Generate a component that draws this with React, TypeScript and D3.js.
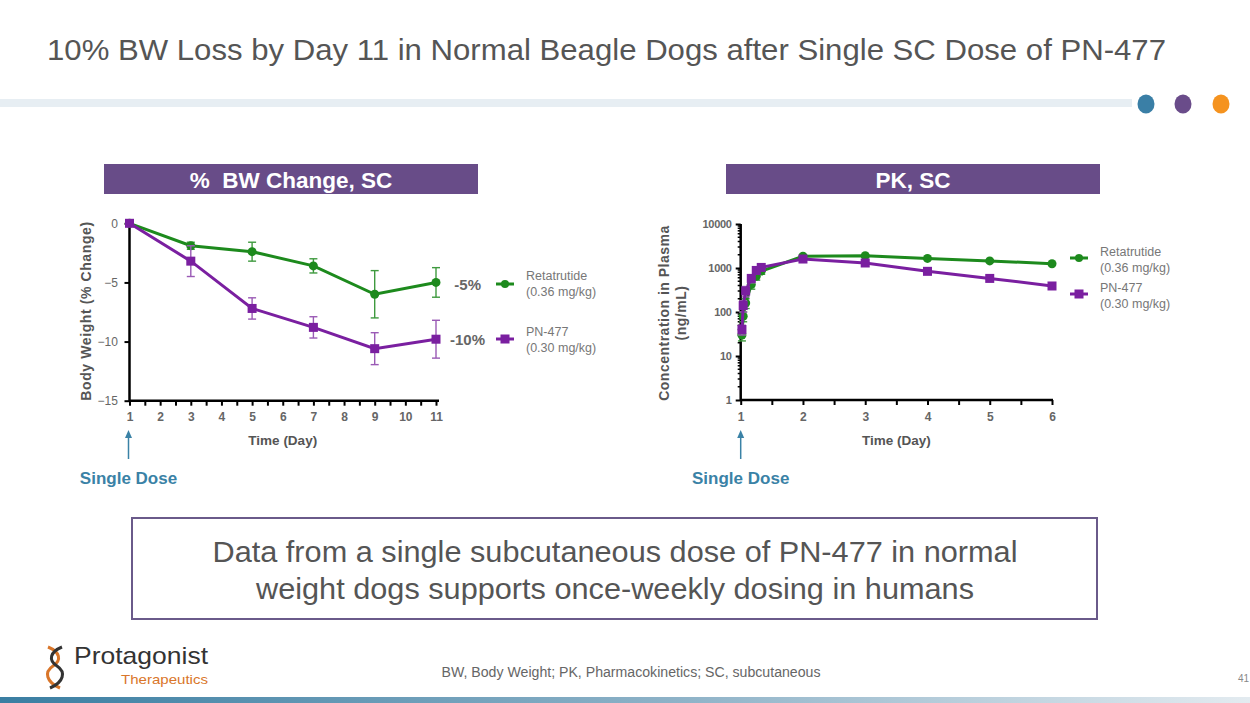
import { useEffect, useRef } from "react";
import * as d3 from "d3";

// Body weight (% change) by day
const bwDays = [1, 3, 5, 7, 9, 11];
const retaBW = [0, -1.9, -2.4, -3.6, -6.0, -5.0];
const retaBWErr = [0, 0.3, 0.8, 0.6, 2.0, 1.25];
const pnBW = [0, -3.2, -7.2, -8.8, -10.6, -9.8];
const pnBWErr = [0, 1.3, 0.9, 0.9, 1.35, 1.6];
const bwYTicks = [0, -5, -10, -15];

// PK concentration in plasma (ng/mL) by day
const pkDays = [1.02, 1.04, 1.08, 1.17, 1.25, 1.33, 2, 3, 4, 5, 6];
const retaPK = [30, 80, 160, 420, 650, 850, 1850, 1900, 1650, 1450, 1250];
const retaPKErr = [8, 20, 40, 90, 120, 130, 100, 80, 60, 50, 40];
const pnPK = [40, 140, 300, 580, 880, 1030, 1600, 1300, 840, 580, 390];
const pnPKErr = [10, 40, 80, 120, 130, 100, 90, 60, 40, 30, 25];
const pkYTicks = [1, 10, 100, 1000, 10000];

const legendNames = ["Retatrutide", "PN-477"];
const legendDoses = ["(0.36 mg/kg)", "(0.30 mg/kg)"];
const bwLabels = ["-5%", "-10%"];

const GREEN = "#1d8a1d";
const PURPLE = "#7a1fa0";
const GREEN_ERR = "#3f9a3f";
const PURPLE_ERR = "#9a5ab5";
const TEAL = "#3a82a6";
const BAR = "#684c88";
const FONT = "'Liberation Sans', Arial, sans-serif";

type Sel = d3.Selection<SVGGElement, unknown, null, undefined>;

function drawSeries(
  g: Sel,
  xs: number[],
  ys: number[],
  errs: number[],
  x: (v: number) => number,
  y: (v: number) => number,
  color: string,
  errColor: string,
  shape: "circle" | "square",
  lowClamp?: number
) {
  const pts = xs.map((d, i) => ({ d, v: ys[i], e: errs[i] }));
  const eg = g.append("g").attr("stroke", errColor).attr("stroke-width", 1.4);
  pts.forEach((p) => {
    if (!p.e) return;
    const lo = lowClamp !== undefined ? Math.max(lowClamp, p.v - p.e) : p.v - p.e;
    const cx = x(p.d);
    eg.append("line").attr("x1", cx).attr("x2", cx).attr("y1", y(p.v + p.e)).attr("y2", y(lo));
    eg.append("line").attr("x1", cx - 4).attr("x2", cx + 4).attr("y1", y(p.v + p.e)).attr("y2", y(p.v + p.e));
    eg.append("line").attr("x1", cx - 4).attr("x2", cx + 4).attr("y1", y(lo)).attr("y2", y(lo));
  });
  const line = d3
    .line<{ d: number; v: number }>()
    .x((p) => x(p.d))
    .y((p) => y(p.v));
  g.append("path")
    .datum(pts)
    .attr("d", line)
    .attr("fill", "none")
    .attr("stroke", color)
    .attr("stroke-width", 3);
  if (shape === "circle") {
    g.selectAll(null)
      .data(pts)
      .join("circle")
      .attr("cx", (p) => x(p.d))
      .attr("cy", (p) => y(p.v))
      .attr("r", 4.5)
      .attr("fill", color);
  } else {
    g.selectAll(null)
      .data(pts)
      .join("rect")
      .attr("x", (p) => x(p.d) - 4.5)
      .attr("y", (p) => y(p.v) - 4.5)
      .attr("width", 9)
      .attr("height", 9)
      .attr("fill", color);
  }
}

function legendSymbol(g: Sel, x0: number, yc: number, color: string, shape: "circle" | "square") {
  g.append("line")
    .attr("x1", x0)
    .attr("x2", x0 + 18)
    .attr("y1", yc)
    .attr("y2", yc)
    .attr("stroke", color)
    .attr("stroke-width", 3);
  if (shape === "circle") {
    g.append("circle").attr("cx", x0 + 9).attr("cy", yc).attr("r", 4).attr("fill", color);
  } else {
    g.append("rect").attr("x", x0 + 4.5).attr("y", yc - 4.5).attr("width", 9).attr("height", 9).attr("fill", color);
  }
}

function legendText(g: Sel, x0: number, y0: number, i: number) {
  const t = g
    .append("text")
    .attr("x", x0)
    .attr("y", y0)
    .attr("font-size", 12.5)
    .attr("fill", "#777");
  t.append("tspan").attr("x", x0).text(legendNames[i]);
  t.append("tspan").attr("x", x0).attr("dy", 15.5).text(legendDoses[i]);
}

function singleDose(g: Sel, xc: number) {
  g.append("line")
    .attr("x1", xc)
    .attr("x2", xc)
    .attr("y1", 459)
    .attr("y2", 436)
    .attr("stroke", TEAL)
    .attr("stroke-width", 1.5);
  g.append("path")
    .attr("d", `M${xc - 3.5},${438} L${xc},${430} L${xc + 3.5},${438} Z`)
    .attr("fill", TEAL);
  g.append("text")
    .attr("x", xc)
    .attr("y", 484)
    .attr("text-anchor", "middle")
    .attr("font-size", 17)
    .attr("font-weight", "bold")
    .attr("fill", TEAL)
    .text("Single Dose");
}

function titleBar(g: Sel, x0: number, label: string) {
  g.append("rect").attr("x", x0).attr("y", 164).attr("width", 374).attr("height", 30).attr("fill", BAR);
  g.append("text")
    .attr("x", x0 + 187)
    .attr("y", 187.5)
    .attr("text-anchor", "middle")
    .attr("font-size", 22.5)
    .attr("font-weight", "bold")
    .attr("fill", "#fff")
    .style("white-space", "pre")
    .text(label);
}

function styleAxis(a: Sel) {
  a.select(".domain").attr("stroke", "#000").attr("stroke-width", 2.5);
  a.selectAll(".tick line").attr("stroke", "#000").attr("stroke-width", 2);
  a.selectAll(".tick text")
    .attr("font-family", FONT)
    .attr("font-size", 12)
    .attr("fill", "#666");
}

export default function App() {
  const ref = useRef<SVGSVGElement>(null);

  useEffect(() => {
    const svg = d3.select(ref.current!);
    svg.selectAll("*").remove();
    const root = svg.append("g").attr("font-family", FONT) as Sel;

    // header
    root
      .append("text")
      .attr("x", 47)
      .attr("y", 60)
      .attr("font-size", 29)
      .attr("fill", "#555")
      .attr("textLength", 1119)
      .attr("lengthAdjust", "spacingAndGlyphs")
      .text("10% BW Loss by Day 11 in Normal Beagle Dogs after Single SC Dose of PN-477");
    root.append("rect").attr("x", 0).attr("y", 99).attr("width", 1132).attr("height", 8).attr("fill", "#e7eef3");
    [
      [1146, "#3a7fa6"],
      [1183, "#6a4c8a"],
      [1221, "#f5931f"],
    ].forEach(([cx, c]) => {
      root.append("ellipse").attr("cx", cx as number).attr("cy", 104).attr("rx", 8.5).attr("ry", 9.5).attr("fill", c as string);
    });

    titleBar(root, 104, "%  BW Change, SC");
    titleBar(root, 726, "PK, SC");

    // ---------- left chart ----------
    const xL = d3.scaleLinear().domain([1, 11]).range([129.5, 436]);
    const yL = d3.scaleLinear().domain([-15, 0]).range([400.7, 223.3]);
    const gl = root.append("g") as Sel;

    const xAxisL = d3
      .axisBottom(xL)
      .tickValues(d3.range(1, 11.01, 0.5))
      .tickSize(5)
      .tickFormat((d) => (Number.isInteger(+d) ? String(d) : ""));
    const axL = gl.append("g").attr("transform", `translate(0,${yL(-15)})`).call(xAxisL) as Sel;
    const yAxisL = d3.axisLeft(yL).tickValues(bwYTicks).tickSize(5).tickFormat(d3.format("d"));
    const ayL = gl.append("g").attr("transform", `translate(${xL(1)},0)`).call(yAxisL) as Sel;
    styleAxis(axL);
    styleAxis(ayL);
    axL.selectAll(".tick text").attr("font-weight", "bold");
    axL.select(".domain").attr("d", `M${xL(1)},0H${xL(11) + 3}`);
    axL.selectAll(".tick text").attr("dy", "1.05em");
    ayL.select(".domain").attr("d", `M0,${yL(0)}V${yL(-15) + 1}`);
    ayL.selectAll(".tick text").attr("dx", "-0.3em");

    drawSeries(gl, bwDays, retaBW, retaBWErr, xL, yL, GREEN, GREEN_ERR, "circle");
    drawSeries(gl, bwDays, pnBW, pnBWErr, xL, yL, PURPLE, PURPLE_ERR, "square");

    gl.append("text")
      .attr("x", (xL(1) + xL(11)) / 2)
      .attr("y", 445)
      .attr("text-anchor", "middle")
      .attr("font-size", 13.5)
      .attr("font-weight", "bold")
      .attr("fill", "#555")
      .text("Time (Day)");
    gl.append("text")
      .attr("transform", `translate(91,${311}) rotate(-90)`)
      .attr("text-anchor", "middle")
      .attr("font-size", 14)
      .attr("font-weight", "bold")
      .attr("letter-spacing", 0.6)
      .attr("fill", "#555")
      .text("Body Weight (% Change)");

    [285, 340].forEach((yc, i) => {
      gl.append("text")
        .attr("x", i === 0 ? 481 : 485)
        .attr("y", yc + 5)
        .attr("text-anchor", "end")
        .attr("font-size", 15)
        .attr("font-weight", "bold")
        .attr("fill", "#666")
        .text(bwLabels[i]);
    });
    legendSymbol(gl, 496, 284, GREEN, "circle");
    legendSymbol(gl, 496, 339, PURPLE, "square");
    legendText(gl, 526, 280, 0);
    legendText(gl, 526, 336, 1);
    singleDose(gl, xL(1) - 1);

    // ---------- right chart ----------
    const xR = d3.scaleLinear().domain([1, 6]).range([740.7, 1052]);
    const yR = d3.scaleLog().domain([1, 10000]).range([400, 224]);
    const gr = root.append("g") as Sel;

    const xAxisR = d3
      .axisBottom(xR)
      .tickValues(d3.range(1, 6.01, 0.5))
      .tickSize(5)
      .tickFormat((d) => (Number.isInteger(+d) ? String(d) : ""));
    const axR = gr.append("g").attr("transform", `translate(0,${yR(1)})`).call(xAxisR) as Sel;
    const minorY: number[] = [];
    for (let p = 0; p < 4; p++) for (let k = 2; k <= 9; k++) minorY.push(k * 10 ** p);
    gr.append("g")
      .selectAll("line")
      .data(minorY)
      .join("line")
      .attr("x1", xR(1) - 3)
      .attr("x2", xR(1))
      .attr("y1", (d) => yR(d))
      .attr("y2", (d) => yR(d))
      .attr("stroke", "#000")
      .attr("stroke-width", 1.5);
    const yAxisR = d3.axisLeft(yR).tickValues(pkYTicks).tickSize(5).tickFormat(d3.format("d"));
    const ayR = gr.append("g").attr("transform", `translate(${xR(1)},0)`).call(yAxisR) as Sel;
    styleAxis(axR);
    styleAxis(ayR);
    axR.selectAll(".tick text").attr("font-weight", "bold");
    ayR.selectAll(".tick text").attr("font-weight", "bold").attr("font-size", 11).attr("letter-spacing", -0.3);
    axR.select(".domain").attr("d", `M${xR(1)},0H${xR(6) + 1}`);
    axR.selectAll(".tick text").attr("dy", "1.05em");
    ayR.select(".domain").attr("d", `M0,${yR(10000)}V${yR(1) + 1}`);
    ayR.selectAll(".tick text").attr("dx", "-0.1em");

    drawSeries(gr, pkDays, retaPK, retaPKErr, xR, yR, GREEN, GREEN_ERR, "circle", 1);
    drawSeries(gr, pkDays, pnPK, pnPKErr, xR, yR, PURPLE, PURPLE_ERR, "square", 1);

    gr.append("text")
      .attr("x", (xR(1) + xR(6)) / 2)
      .attr("y", 445)
      .attr("text-anchor", "middle")
      .attr("font-size", 13.5)
      .attr("font-weight", "bold")
      .attr("fill", "#555")
      .text("Time (Day)");
    const yl = gr
      .append("text")
      .attr("transform", `translate(669,${313}) rotate(-90)`)
      .attr("text-anchor", "middle")
      .attr("font-size", 14)
      .attr("font-weight", "bold")
      .attr("letter-spacing", 0.5)
      .attr("fill", "#555");
    yl.append("tspan").attr("x", 0).text("Concentration in Plasma");
    yl.append("tspan").attr("x", 0).attr("dy", 17).text("(ng/mL)");

    legendSymbol(gr, 1070, 258, GREEN, "circle");
    legendSymbol(gr, 1070, 294, PURPLE, "square");
    legendText(gr, 1100, 256, 0);
    legendText(gr, 1100, 292, 1);
    singleDose(gr, xR(1));

    // ---------- callout box ----------
    root.append("rect")
      .attr("x", 132)
      .attr("y", 518)
      .attr("width", 965)
      .attr("height", 101)
      .attr("fill", "#fff")
      .attr("stroke", "#6a5a8a")
      .attr("stroke-width", 2);
    [
      ["Data from a single subcutaneous dose of PN-477 in normal", 805],
      ["weight dogs supports once-weekly dosing in humans", 718],
    ].forEach(([s, w], i) => {
      root.append("text")
        .attr("x", 615)
        .attr("y", 562 + i * 37)
        .attr("text-anchor", "middle")
        .attr("font-size", 29)
        .attr("fill", "#555")
        .attr("textLength", w as number)
        .attr("lengthAdjust", "spacingAndGlyphs")
        .text(s as string);
    });

    // ---------- footer ----------
    root.append("text")
      .attr("x", 631)
      .attr("y", 677)
      .attr("text-anchor", "middle")
      .attr("font-size", 14)
      .attr("fill", "#666")
      .attr("textLength", 379)
      .attr("lengthAdjust", "spacingAndGlyphs")
      .text("BW, Body Weight; PK, Pharmacokinetics; SC, subcutaneous");
    root.append("text").attr("x", 1238).attr("y", 682).attr("font-size", 10).attr("fill", "#888").text("41");

    const grad = svg.append("defs").append("linearGradient").attr("id", "footGrad");
    grad.append("stop").attr("offset", "0%").attr("stop-color", "#3a7ea2");
    grad.append("stop").attr("offset", "55%").attr("stop-color", "#8fb3c8");
    grad.append("stop").attr("offset", "100%").attr("stop-color", "#e3ebf0");
    root.append("rect").attr("x", 0).attr("y", 697).attr("width", 1250).attr("height", 6).attr("fill", "url(#footGrad)");

    // logo
    const logo = root.append("g");
    logo.append("path")
      .attr("d", "M48,647 C60,652 62,660 53,666 C44,672 46,682 60,688")
      .attr("fill", "none")
      .attr("stroke", "#d9762a")
      .attr("stroke-width", 3);
    logo.append("path")
      .attr("d", "M62,647 C50,652 48,660 57,666 C66,672 64,682 50,688")
      .attr("fill", "none")
      .attr("stroke", "#333")
      .attr("stroke-width", 3);
    logo.append("text")
      .attr("x", 74)
      .attr("y", 664)
      .attr("font-size", 24)
      .attr("fill", "#333")
      .attr("textLength", 134)
      .attr("lengthAdjust", "spacingAndGlyphs")
      .text("Protagonist");
    logo.append("text")
      .attr("x", 121)
      .attr("y", 684)
      .attr("font-size", 13.5)
      .attr("fill", "#d9762a")
      .attr("textLength", 87)
      .attr("lengthAdjust", "spacingAndGlyphs")
      .text("Therapeutics");
  }, []);

  return (
    <svg
      ref={ref}
      width={1250}
      height={703}
      style={{ position: "absolute", left: 0, top: 0, background: "#fff" }}
    />
  );
}
